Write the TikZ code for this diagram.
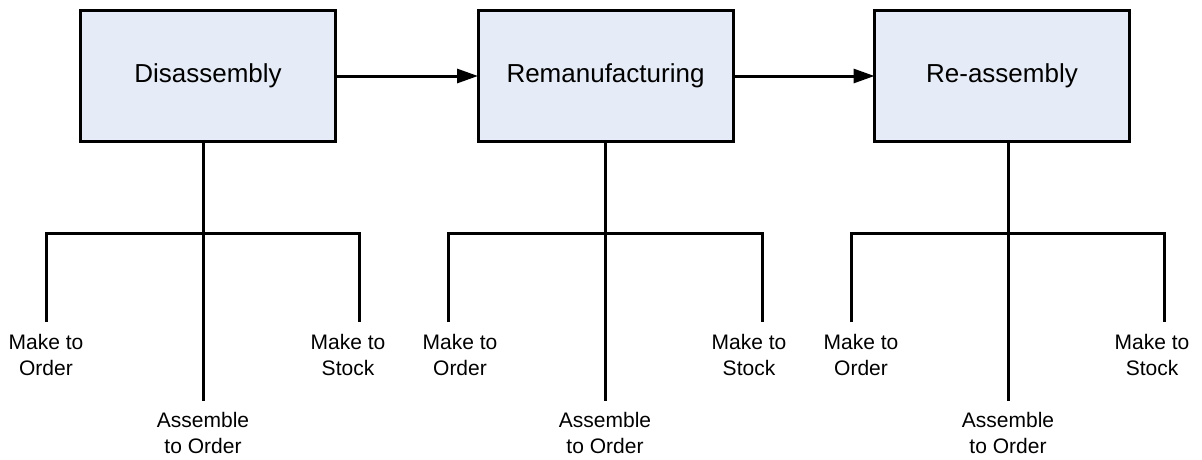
\documentclass[tikz,border=0pt]{standalone}
\usepackage{fontspec}
\setmainfont{Liberation Sans}
\usetikzlibrary{arrows.meta}
\definecolor{stagefill}{RGB}{230,236,247}
\begin{document}
\begin{tikzpicture}[x=1pt,y=-1pt,
  stagebox/.style={draw=black,line width=3pt,fill=stagefill,minimum width=255pt,minimum height=131pt,
    inner sep=0pt,outer sep=0pt,font=\fontsize{26}{30}\selectfont},
  wire/.style={line width=3pt,draw=black},
  flow/.style={wire,-{Triangle[length=21pt,width=14pt]}},
  choice/.style={anchor=north,align=center,inner sep=0pt,font=\fontsize{21}{26}\selectfont}]
\useasboundingbox (0,0) rectangle (1202,459);

% process stages
\node[stagebox] (dis) at (208,76) {Disassembly};
\node[stagebox] (rem) at (605.5,76) {Remanufacturing};
\node[stagebox] (rea) at (1002,76) {Re-assembly};

\draw[flow] (dis.east) -- (rem.west);
\draw[flow] (rem.east) -- (rea.west);

% production strategy branches below each stage
\foreach \s/\c/\l/\r/\mo/\ms in {dis/203/46/359/46/348, rem/605/448/762/460/749, rea/1008/851/1164/861/1152}{
  \coordinate (\s-hub) at (\c,233);
  \coordinate (\s-l) at (\l,322);
  \coordinate (\s-m) at (\c,401);
  \coordinate (\s-r) at (\r,322);
  \draw[wire] (\s.south -| \s-hub) -- (\s-m);
  \draw[wire] (\s-l) |- (\s-hub) -| (\s-r);
  \node[choice] (\s-mto) at (\mo,334) {Make to\\Order};
  \node[choice] (\s-mts) at (\ms,334) {Make to\\Stock};
  \node[choice] (\s-ato) at (\c,412) {Assemble\\to Order};
}
\end{tikzpicture}
\end{document}
